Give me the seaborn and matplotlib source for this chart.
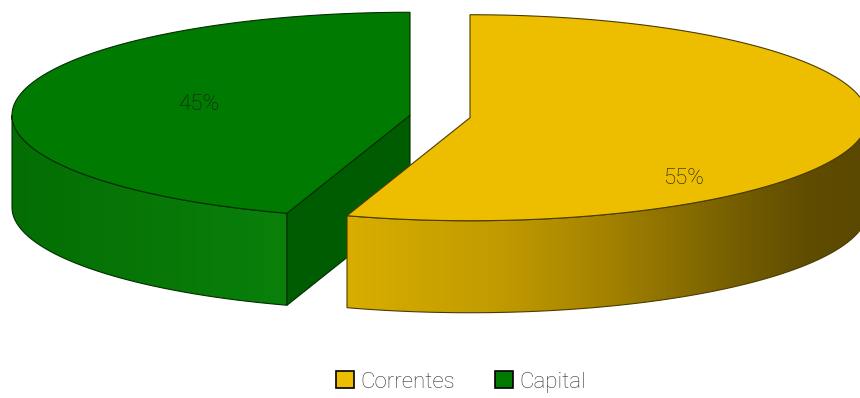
import numpy as np
import matplotlib
matplotlib.use("Agg")
import matplotlib.pyplot as plt
import seaborn as sns
from matplotlib.patches import Polygon, Patch
from matplotlib.colors import LinearSegmentedColormap

# Expense split
categories = ["Correntes", "Capital"]
shares = [55, 45]
pct_labels = ["55%", "45%"]

sns.set_theme(style="white")
plt.rcParams["font.family"] = ["Roboto", "Open Sans", "DejaVu Sans"]

top_colors = ["#EDBE00", "#007A00"]
edge_colors = ["#4A3C00", "#002E00"]
radial_wall_color = "#005C00"
wall_cmaps = [
    LinearSegmentedColormap.from_list(
        "wall_y", [(0.0, "#D8AE00"), (0.3, "#C09A00"), (0.5, "#A48200"),
                   (0.72, "#7A6200"), (0.88, "#604D00"), (1.0, "#5A4800")]),
    LinearSegmentedColormap.from_list(
        "wall_g", [(0.0, "#046E04"), (1.0, "#0A800A")]),
]

# Projected pie geometry (pixel space)
A, B, DEPTH = 398.0, 103.0, 92.0
CX, CY = 440.0, 116.5
EXPLODE = 0.0763

fig = plt.figure(figsize=(8.6, 3.98), dpi=100)
ax = fig.add_axes([0, 0, 1, 1])
ax.set_xlim(0, 860)
ax.set_ylim(398, 0)
ax.axis("off")


def pt(cx, cy, th, z=0.0):
    return (cx + A * np.cos(th), cy - B * np.sin(th) + z)


def arc(cx, cy, t0, t1, z=0.0, n=200):
    ts = np.linspace(t0, t1, n)
    return np.column_stack([cx + A * np.cos(ts), cy - B * np.sin(ts) + z])


def gradient_fill(verts, cmap, x0, x1, z, ec):
    poly = Polygon(verts, closed=True, transform=ax.transData)
    grad = np.linspace(0, 1, 256).reshape(1, -1)
    im = ax.imshow(grad, cmap=cmap, aspect="auto",
                   extent=(x0, x1, 398, 0), interpolation="bilinear", zorder=z)
    im.set_clip_path(poly)
    ax.add_patch(Polygon(verts, closed=True, fill=False, lw=0.8,
                         ec=ec, zorder=z + 0.1))


# slice angles: clockwise from 12 o'clock, each as (lower edge, upper edge)
total = float(sum(shares))
start = np.pi / 2
angles = []
for v in shares:
    sweep = 2 * np.pi * v / total
    angles.append((start - sweep, start))
    start -= sweep
# Capital spans from the 12 o'clock edge (-270 deg) round to -108 deg

centers = []
for (t0, t1) in angles:
    mid = (t0 + t1) / 2
    centers.append((CX + A * EXPLODE * np.cos(mid), CY - B * EXPLODE * np.sin(mid)))

# Capital (back, left) drawn below Correntes (front, right)
layer = {1: 1.0, 0: 3.0}
for i in [1, 0]:
    t0, t1 = angles[i]
    cx, cy = centers[i]
    z = layer[i]
    if i == 0:
        # front wall runs from the slice's lower edge round to angle 0
        w0, w1 = t0, 0.0
        cut = t0
    else:
        # lower-left part of the rim, from 9 o'clock to the slice's lower edge
        w0, w1 = -np.pi, t1
        cut = t1
    top_arc = arc(cx, cy, w0, w1)
    bot_arc = arc(cx, cy, w1, w0, z=DEPTH)
    wall = np.vstack([top_arc, bot_arc])
    gradient_fill(wall, wall_cmaps[i], wall[:, 0].min(), wall[:, 0].max(), z,
                  edge_colors[i])

    if i == 1:
        # radial side face along the slice's lower edge
        p_top = pt(cx, cy, cut)
        p_bot = pt(cx, cy, cut, DEPTH)
        face = [(cx, cy), p_top, p_bot, (cx, cy + DEPTH)]
        ax.add_patch(Polygon(face, closed=True, fc=radial_wall_color,
                             ec=edge_colors[i], lw=0.8, zorder=z + 0.2))

    top = np.vstack([[cx, cy], arc(cx, cy, t0, t1), [cx, cy]])
    ax.add_patch(Polygon(top, closed=True, fc=top_colors[i],
                         ec=edge_colors[i], lw=0.8, zorder=z + 0.3))

# percentage labels
label_pos = [(683, 178), (199, 105)]
for (x, y), txt in zip(label_pos, pct_labels):
    ax.text(x, y, txt, ha="center", va="center", fontsize=16,
            fontweight="light", color="#1A1A1A", zorder=6)

handles = [Patch(fc=top_colors[i], ec="#000000", lw=1.2) for i in range(2)]
leg = fig.legend(handles, categories, loc="center",
                 bbox_to_anchor=(461 / 860, 1 - 382 / 398), ncol=2,
                 frameon=False, fontsize=16, handlelength=0.8,
                 handleheight=0.8, handletextpad=0.3, columnspacing=1.8)
for t in leg.get_texts():
    t.set_color("#333333")
    t.set_fontweight("light")

fig.savefig("out.png", dpi=100)
